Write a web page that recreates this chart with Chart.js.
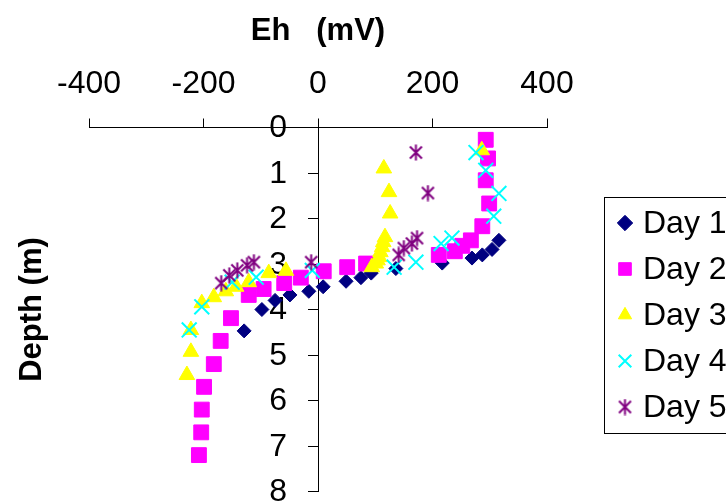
<!DOCTYPE html>
<html>
<head>
<meta charset="utf-8">
<script src="https://cdn.jsdelivr.net/npm/chart.js@4.4.1/dist/chart.umd.min.js"></script>
<style>
  html, body { margin: 0; padding: 0; background: #fff; }
  #wrap { width: 726px; height: 504px; position: relative; }
</style>
</head>
<body>
<div id="wrap"><canvas id="c" width="726" height="504"></canvas></div>
<script>
// ---- Data (Eh in mV, depth in m) ----
const seriesNames = ["Day 1", "Day 2", "Day 3", "Day 4", "Day 5"];
const xTicks = [-400, -200, 0, 200, 400];
const yTicks = [0, 1, 2, 3, 4, 5, 6, 7, 8];

const day1Eh    = [-129, -98, -75, -49, -16, 9, 49, 75, 93, 136, 217, 269, 287, 304, 316];
const day1Depth = [4.47, 4.0, 3.8, 3.68, 3.6, 3.5, 3.38, 3.3, 3.2, 3.1, 2.98, 2.87, 2.8, 2.68, 2.48];

const day2Eh    = [293, 297, 293, 299, 287, 267, 252, 239, 211, 84, 51, 10, -30, -59, -95, -121, -152, -170, -182, -199, -203, -204, -208];
const day2Depth = [0.27, 0.68, 1.16, 1.67, 2.17, 2.48, 2.6, 2.72, 2.8, 2.99, 3.07, 3.16, 3.3, 3.42, 3.55, 3.68, 4.19, 4.69, 5.2, 5.7, 6.2, 6.7, 7.2];

const day3Eh    = [286, 115, 124, 126, 117, 114, 112, 109, 107, 104, 101, 94, -56, -86, -121, -143, -161, -182, -203, -222, -222, -229];
const day3Depth = [0.5, 0.9, 1.42, 1.89, 2.41, 2.52, 2.63, 2.74, 2.85, 2.92, 2.99, 3.07, 3.15, 3.2, 3.4, 3.5, 3.6, 3.73, 3.86, 4.45, 4.93, 5.44];

const day4Eh    = [276, 293, 316, 307, 234, 215, 171, 133, -10, -108, -150, -203, -225];
const day4Depth = [0.55, 0.94, 1.45, 1.95, 2.43, 2.55, 2.96, 3.07, 3.14, 3.29, 3.4, 3.94, 4.45];

const day5Eh    = [171, 192, 173, 164, 150, 141, -12, -112, -124, -141, -155, -169];
const day5Depth = [0.55, 1.44, 2.43, 2.55, 2.65, 2.8, 2.96, 2.96, 3.03, 3.14, 3.25, 3.42];

// ---- helpers ----
function pts(xs, ys) { return xs.map((x, i) => ({ x: x, y: ys[i] })); }

// Excel-like asterisk marker (X plus vertical stroke)
function makeAsterisk(color) {
  const cv = document.createElement('canvas');
  cv.width = 17; cv.height = 17;
  const g = cv.getContext('2d');
  g.strokeStyle = color; g.lineWidth = 2;
  g.beginPath();
  g.moveTo(2.5, 2.5); g.lineTo(14.5, 14.5);
  g.moveTo(14.5, 2.5); g.lineTo(2.5, 14.5);
  g.moveTo(8.5, 0.5); g.lineTo(8.5, 16.5);
  g.stroke();
  return cv;
}
const asterisk = makeAsterisk('#800080');

const FONT = "'Liberation Sans', Arial, sans-serif";

const datasets = [
  { label: seriesNames[0], data: pts(day1Eh, day1Depth), pointStyle: 'rectRot', pointRadius: 7,
    backgroundColor: '#000080', borderColor: '#000080', borderWidth: 1, order: 5 },
  { label: seriesNames[1], data: pts(day2Eh, day2Depth), pointStyle: 'rect', pointRadius: 10.5,
    backgroundColor: '#FF00FF', borderColor: '#FF00FF', borderWidth: 1, order: 4 },
  { label: seriesNames[2], data: pts(day3Eh, day3Depth), pointStyle: 'triangle', pointRadius: 9,
    backgroundColor: '#FFFF00', borderColor: '#FFFF00', borderWidth: 1, order: 3 },
  { label: seriesNames[3], data: pts(day4Eh, day4Depth), pointStyle: 'crossRot', pointRadius: 10.5,
    backgroundColor: '#00FFFF', borderColor: '#00FFFF', borderWidth: 2, order: 2 },
  { label: seriesNames[4], data: pts(day5Eh, day5Depth), pointStyle: asterisk, pointRadius: 8,
    backgroundColor: '#800080', borderColor: '#800080', borderWidth: 2, order: 1 }
];

// Custom boxed legend drawn from dataset styles
const boxLegend = {
  id: 'boxLegend',
  afterDraw(chart) {
    const ctx = chart.ctx;
    ctx.save();
    ctx.strokeStyle = '#000';
    ctx.lineWidth = 1;
    ctx.strokeRect(604.5, 197.5, 200, 236);
    const x0 = 625, tx = 643, y0 = 223, dy = 46;
    ctx.font = "32px " + FONT;
    ctx.textBaseline = 'middle';
    ctx.textAlign = 'left';
    chart.data.datasets.forEach((ds, i) => {
      const y = y0 + i * dy;
      ctx.fillStyle = ds.backgroundColor;
      ctx.strokeStyle = ds.borderColor;
      ctx.lineWidth = ds.borderWidth;
      const r = ds.pointStyle === 'rectRot' ? ds.pointRadius * 1.1 : ds.pointRadius * 0.85;
      Chart.helpers.drawPoint(ctx, { pointStyle: ds.pointStyle, radius: r, rotation: 0, borderWidth: ds.borderWidth }, x0, y);
      ctx.fillStyle = '#000';
      ctx.fillText(ds.label, tx, y + 1);
    });
    ctx.restore();
  }
};

// Shift the y tick labels left of the tick marks (axis sits at x = 0)
function patchYLabels(s) {
  if (s._labelPatched) return;
  s._labelPatched = true;
  const orig = s._computeLabelItems.bind(s);
  s._computeLabelItems = function (ca) {
    const items = orig(ca);
    items.forEach(it => { it.options.translation[0] -= 31; it.options.translation[1] += 1; });
    return items;
  };
}

new Chart(document.getElementById('c'), {
  type: 'scatter',
  data: { datasets: datasets },
  plugins: [boxLegend],
  options: {
    responsive: false,
    animation: false,
    events: [],
    layout: { padding: { left: 0, right: 179, top: 0, bottom: 10.5 } },
    plugins: { legend: { display: false }, tooltip: { enabled: false } },
    scales: {
      x: {
        type: 'linear', position: 'top', min: -400, max: 400,
        afterBuildTicks: (s) => { s.ticks = xTicks.map(v => ({ value: v })); },
        ticks: { font: { family: FONT, size: 32 }, color: '#000', padding: 15, maxRotation: 0 },
        grid: { drawOnChartArea: false, tickLength: 9, color: '#000' },
        border: { color: '#000', width: 1 },
        title: { display: true, text: 'Eh   (mV)', color: '#000',
                 font: { family: FONT, size: 31, weight: 'bold' }, padding: { top: 13, bottom: 0 } },
        afterFit: (s) => { s.height = 127.5; s.paddingLeft = 0; s.paddingRight = 0; }
      },
      y: {
        type: 'linear', position: { x: 0 }, reverse: true, min: 0, max: 8,
        afterBuildTicks: (s) => { s.ticks = yTicks.map(v => ({ value: v })); },
        ticks: { font: { family: FONT, size: 32 }, color: '#000', padding: 11 },
        grid: { drawOnChartArea: false, tickLength: 10, color: '#000' },
        border: { color: '#000', width: 1 },
        afterFit: (s) => { s.paddingTop = 0; s.paddingBottom = 0; },
        afterUpdate: patchYLabels
      },
      y2: {
        type: 'linear', position: 'left', reverse: true, min: 0, max: 8,
        ticks: { display: false },
        grid: { display: false },
        border: { display: false },
        title: { display: true, text: 'Depth (m)', color: '#000',
                 font: { family: FONT, size: 31, weight: 'bold' }, padding: { top: 14, bottom: 0 } },
        afterFit: (s) => { s.width = 89; s.paddingTop = 0; s.paddingBottom = 0; }
      }
    }
  }
});
</script>
</body>
</html>
